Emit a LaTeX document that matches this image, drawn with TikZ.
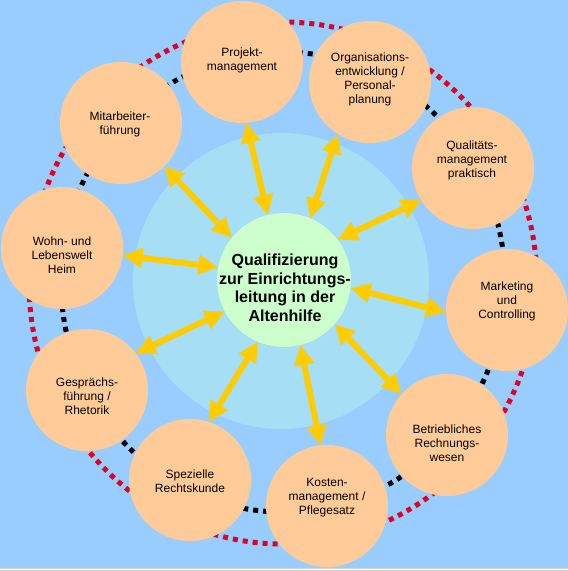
\documentclass[tikz,border=0pt]{standalone}
\usepackage{fontspec}
\setmainfont{Liberation Sans}
\usetikzlibrary{arrows.meta}
\definecolor{bgblue}{RGB}{153,204,255}
\definecolor{peachc}{RGB}{255,204,153}
\definecolor{coregreen}{RGB}{204,255,204}
\definecolor{hatchc}{RGB}{165,222,245}
\definecolor{ringr}{RGB}{228,0,30}
\definecolor{arrowy}{RGB}{255,204,0}
\definecolor{stripg}{RGB}{212,212,212}
\tikzset{
  peach/.style={circle,fill=peachc,minimum size=122pt,inner sep=0pt,outer sep=0pt},
  ptext/.style={align=center,inner sep=0pt,font=\fontsize{12}{14}\selectfont},
  ctext/.style={align=center,inner sep=0pt,font=\fontsize{16}{18.5}\selectfont\bfseries},
  ringred/.style={draw=ringr,line width=5pt,dash pattern=on 5pt off 5pt},
  ringblack/.style={draw=black,line width=5pt,dash pattern=on 5pt off 5pt},
  yarrow/.style={draw=arrowy,line width=6pt,{Triangle[length=20pt,width=19pt]}-{Triangle[length=20pt,width=19pt]}}
}
\begin{document}
\begin{tikzpicture}[x=1pt,y=-1pt]
\useasboundingbox (0,0) rectangle (568,571);
\fill[bgblue] (0,0) rectangle (568,571);
\fill[stripg] (0,567.5) rectangle (568,571);
\fill[white] (0,569) rectangle (568,570);
% rings
\draw[ringred] (283,283) ellipse [x radius=254, y radius=261];
\draw[ringblack] (283,282) ellipse [x radius=222, y radius=230];
% hatched disc
\fill[hatchc] (281,281) circle [radius=148];
% peach circles
\node[peach] (p1) at (242,62) {};
\node[peach] (p2) at (370,82) {};
\node[peach] (p3) at (473,168) {};
\node[peach] (p4) at (507,310) {};
\node[peach] (p5) at (447,435) {};
\node[peach] (p6) at (327,506) {};
\node[peach] (p7) at (190,480) {};
\node[peach] (p8) at (87,390) {};
\node[peach] (p9) at (62,248) {};
\node[peach] (p10) at (121,123) {};
% core
\node[circle,fill=coregreen,minimum size=134pt,inner sep=0pt,outer sep=0pt] (core) at (284,280) {};
% arrows
\draw[yarrow] (p1.-86) -- (core.104);
\draw[yarrow] (p10.-45) -- (core.141);
\draw[yarrow] (p9.-7) -- (core.169);
\draw[yarrow] (p2.-122) -- (core.67);
\draw[yarrow] (p3.-148) -- (core.37);
\draw[yarrow] (p4.-178) -- (core.-7);
\draw[yarrow] (p5.138) -- (core.-41);
\draw[yarrow] (p6.96) -- (core.-76);
\draw[yarrow] (p7.72) -- (core.-113);
\draw[yarrow] (p8.37) -- (core.-152);
% texts
\node[ctext] (tcore) at (285,288) {Qualifizierung\\zur Einrichtungs-\\leitung in der\\Altenhilfe};
\node[ptext] (t1) at (242,60) {Projekt-\\management};
\node[ptext] (t2) at (370,79) {Organisations-\\entwicklung /\\Personal-\\planung};
\node[ptext] (t3) at (472,160) {Qualitäts-\\management\\praktisch};
\node[ptext] (t4) at (507,301) {Marketing\\und\\Controlling};
\node[ptext] (t5) at (447,443) {Betriebliches\\Rechnungs-\\wesen};
\node[ptext] (t6) at (327,498) {Kosten-\\management /\\Pflegesatz};
\node[ptext] (t7) at (190,481) {Spezielle\\Rechtskunde};
\node[ptext] (t8) at (87,396) {Gesprächs-\\führung /\\Rhetorik};
\node[ptext] (t9) at (62,255) {Wohn- und\\Lebenswelt\\Heim};
\node[ptext] (t10) at (120,124) {Mitarbeiter-\\führung};
\end{tikzpicture}
\end{document}
